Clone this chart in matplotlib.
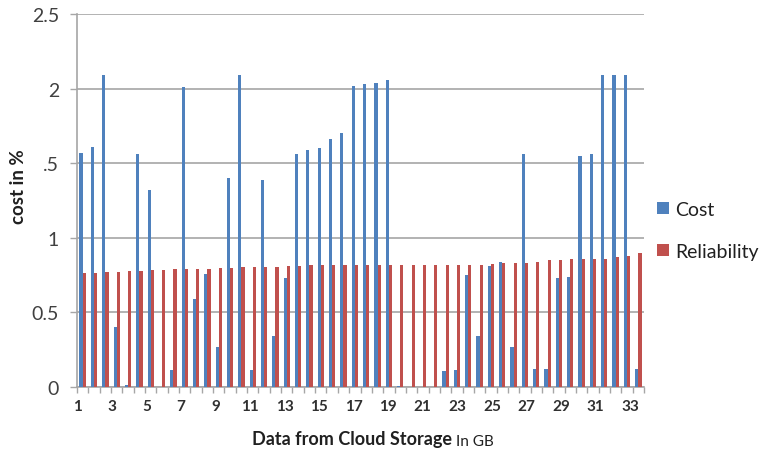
import matplotlib.pyplot as plt
import numpy as np

plt.rcParams['font.family'] = ['Lato', 'DejaVu Sans']

# cost and reliability for each storage sample
cost = [1.57, 1.61, 2.09, 0.40, 0.013, 1.56, 1.32, 0.0, 0.116, 2.01,
        0.59, 0.76, 0.27, 1.40, 2.09, 0.116, 1.39, 0.34, 0.73, 1.56,
        1.59, 1.60, 1.66, 1.70, 2.02, 2.03, 2.04, 2.06, 0.005, 0.0,
        0.0, 0.0, 0.11, 0.116, 0.75, 0.34, 0.81, 0.84, 0.27, 1.56,
        0.12, 0.12, 0.73, 0.74, 1.55, 1.56, 2.09, 2.09, 2.09, 0.12]
reliability = [0.763, 0.763, 0.768, 0.768, 0.777, 0.777, 0.785, 0.785, 0.79, 0.79,
               0.79, 0.79, 0.80, 0.80, 0.805, 0.805, 0.805, 0.805, 0.81, 0.81,
               0.815, 0.815, 0.815, 0.815, 0.818, 0.818, 0.818, 0.818, 0.82, 0.82,
               0.82, 0.82, 0.82, 0.82, 0.82, 0.82, 0.823, 0.834, 0.834, 0.834,
               0.841, 0.849, 0.849, 0.857, 0.857, 0.857, 0.857, 0.868, 0.877, 0.90]
tick_text = [str(v) for v in range(1, 34, 2)]
y_ticks = [0, 0.5, 1, 1.5, 2, 2.5]
y_text = ['0', '0.5', '1', '.5', '2', '2.5']

blue = '#4F81BD'
red = '#C0504D'
grid_c = '#a6a6a6'
txt_c = '#404040'

fig = plt.figure(figsize=(7.64, 4.52), dpi=100)
ax = fig.add_axes([77 / 764, 1 - 388 / 452, 567 / 764, 373 / 452])

x = np.arange(len(cost))
w = 0.28
ax.bar(x - w / 2, cost, w, color=blue, label='Cost', zorder=3)
ax.bar(x + w / 2, reliability, w, color=red, label='Reliability', zorder=3)

ax.set_xlim(-0.5, len(cost) - 0.5)
ax.set_ylim(0, 2.5)
ax.set_yticks(y_ticks)
ax.set_yticklabels(y_text, fontsize=14, color=txt_c)
ax.yaxis.grid(True, color=grid_c, lw=1.2, zorder=0)
ax.tick_params(axis='y', length=5, width=1, color=grid_c, pad=8)

# labels sit every third category, marks sit on the category edges
ax.set_xticks(np.arange(len(tick_text)) * 3.046 - 0.47)
ax.set_xticklabels(tick_text, fontsize=11, color='#303030', fontweight='bold')
ax.set_xticks(np.arange(len(cost) + 1) - 0.5, minor=True)
ax.tick_params(axis='x', which='major', length=0, pad=9)
ax.tick_params(axis='x', which='minor', length=4, width=1, color=grid_c)

for s in ['top', 'right']:
    ax.spines[s].set_visible(False)
for s in ['left', 'bottom']:
    ax.spines[s].set_color(grid_c)
    ax.spines[s].set_linewidth(1.2)

ax.set_ylabel('cost in %', fontsize=13.5, fontweight='bold', color='#202020')
ax.yaxis.set_label_coords(-0.088, 0.54)

fig.text(452 / 764, 1 - 440 / 452, 'Data from Cloud Storage', ha='right', va='center',
         fontsize=13, fontweight='bold', color='#202020')
fig.text(456 / 764, 1 - 442 / 452, 'In GB', ha='left', va='center',
         fontsize=11, color='#202020')

leg = ax.legend(loc='center left', bbox_to_anchor=(1.023, 0.42), frameon=False,
                fontsize=14, handlelength=0.6, handleheight=0.6, handletextpad=0.35,
                labelspacing=1.3, borderpad=0, borderaxespad=0, labelcolor='#202020')

fig.savefig('out.png', dpi=100)
